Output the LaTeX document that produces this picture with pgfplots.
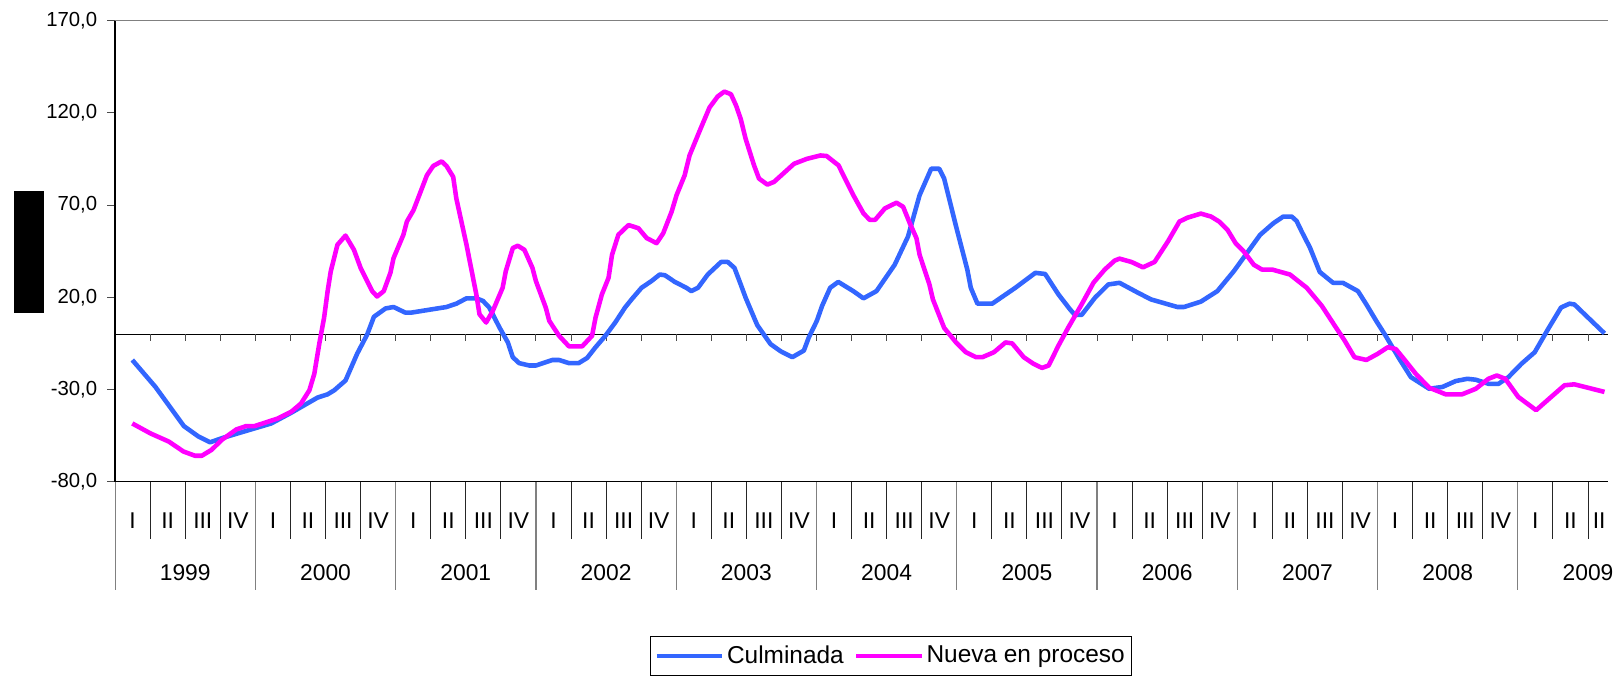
\documentclass[border=0pt]{standalone}
\usepackage{pgfplots}
\pgfplotsset{compat=1.18}
\usepackage{fontspec}
\setmainfont{Liberation Sans}
\definecolor{culm}{HTML}{3366FF}
\definecolor{nueva}{HTML}{FF00FF}

\begin{document}
\begin{tikzpicture}
% frame of the whole picture: 1 px of the reference = 0.5pt
\path (0pt,0pt) rectangle (810pt,339pt);
\begin{axis}[
    at={(58pt,96.15pt)}, anchor=south west,
    scale only axis, width=752pt, height=232.5pt,
    xmin=0, xmax=42.56, ymin=-80, ymax=170,
    axis x line*=bottom, axis y line*=left,
    x axis line style={black, line width=0.5pt},
    y axis line style={black, line width=0.85pt},
    clip=false,
    tick align=outside, major tick length=4pt,
    ytick={-80,-30,20,70,120,170},
    ytick style={gray!60!black, line width=0.5pt},
    /pgf/number format/assume math mode=true,
    yticklabel style={font=\fontsize{10.25}{12}\selectfont, xshift=-1.5pt,
        /pgf/number format/.cd, fixed, fixed zerofill, precision=1, use comma},
    xtick={0.5,1.5,...,42.5},
    xticklabels={I,II,III,IV,I,II,III,IV,I,II,III,IV,I,II,III,IV,I,II,III,IV,I,II,III,IV,
        I,II,III,IV,I,II,III,IV,I,II,III,IV,I,II,III,IV,I,II,\llap{II}},
    xtick style={draw=none},
    xticklabel style={font=\fontsize{11.5}{13}\selectfont, anchor=center, yshift=-15.3pt},
    extra x ticks={2,6,...,42},
    extra x tick labels={1999,2000,2001,2002,2003,2004,2005,2006,2007,2008,2009},
    extra x tick style={xticklabel style={yshift=-26.25pt}},
    legend columns=2,
    legend image code/.code={\draw[#1] (0pt,0pt) -- (33pt,0pt);},
    legend style={at={(0.3585,-0.334)}, anchor=north west, draw=black, line width=0.5pt,
        font=\fontsize{12.3}{14}\selectfont, inner xsep=2pt, inner ysep=2.6pt,
        nodes={inner xsep=1.2pt},
        /tikz/every even column/.append style={column sep=4pt}},
]
% reference lines and category separators
\draw[gray, line width=0.5pt] (axis cs:0,170) -- (axis cs:42.56,170);
\draw[black, line width=0.5pt] (axis cs:0,0) -- (axis cs:42.56,0);
\pgfplotsinvokeforeach{1,...,42}{
  \draw[gray!60!black, line width=0.5pt] (axis cs:#1,0) -- ([yshift=-3.5pt]axis cs:#1,0);
  \draw[black!85, line width=0.5pt] (axis cs:#1,-80) -- ([yshift=-28.5pt]axis cs:#1,-80);
}
\pgfplotsinvokeforeach{0,4,...,40}{
  \draw[gray, line width=0.6pt] (axis cs:#1,-80) -- ([yshift=-54.5pt]axis cs:#1,-80);
}

\addplot[culm, line width=2.3pt, line join=round] coordinates {
(0.49,-13.9)(1.15,-28.5)(1.96,-49.7)(2.38,-55.4)(2.71,-58.5)(3.04,-56.3)(3.51,-53.6)
(4.45,-48.3)(5.02,-42.5)(5.77,-34.3)(6.06,-32.5)(6.25,-30.3)(6.57,-25.0)(6.9,-10.6)
(7.19,0)(7.38,9.5)(7.71,14)(7.94,14.8)(8.27,11.8)(8.46,11.8)(9.45,14.8)(9.73,16.6)
(10.02,19.5)(10.3,19.5)(10.49,18.1)(10.67,14.5)(10.96,3.7)(11.2,-4.4)(11.34,-12.4)
(11.52,-15.6)(11.81,-16.9)(12.0,-16.9)(12.47,-13.9)(12.66,-13.9)(12.94,-15.6)
(13.22,-15.6)(13.46,-12.8)(13.7,-7.0)(13.98,-0.8)(14.26,6.4)(14.54,14.5)(14.73,19.0)
(15.01,25.2)(15.29,28.8)(15.53,32.4)(15.68,32.0)(15.96,28.4)(16.29,25.2)(16.43,23.4)
(16.62,25.2)(16.9,32.4)(17.28,39.2)(17.47,39.2)(17.66,36)(17.84,27)(17.98,19.8)
(18.31,5.0)(18.69,-5.3)(18.98,-9.2)(19.31,-12.4)(19.64,-8.8)(19.78,-1.7)(20.01,7.3)
(20.16,15.4)(20.39,25.2)(20.62,28.4)(21.05,23.4)(21.34,19.5)(21.71,23.4)(22.23,37.7)
(22.61,53.0)(22.94,75.4)(23.27,89.7)(23.5,89.7)(23.64,84.4)(23.97,59.2)(24.3,35.1)
(24.4,25.2)(24.59,16.6)(25.01,16.6)(25.67,25.2)(26.24,33.3)(26.52,32.7)(26.9,21.6)
(27.23,13.5)(27.37,10.5)(27.56,10.5)(27.94,19.8)(28.32,27)(28.64,27.9)(29.17,22.5)
(29.54,18.9)(30.29,14.8)(30.48,14.8)(30.96,17.7)(31.43,23.4)(31.9,34.2)(32.65,53.9)
(33.03,60.2)(33.31,63.8)(33.55,63.8)(33.69,61.4)(33.84,55.5)(34.07,47)(34.35,33.8)
(34.73,27.9)(35.01,27.9)(35.44,23.4)(35.68,16.2)(35.96,7.3)(36.23,-0.8)(36.62,-13.3)
(36.95,-23.2)(37.47,-29.5)(37.85,-28.5)(38.23,-25.3)(38.56,-24.1)(38.8,-24.6)
(39.16,-26.8)(39.45,-26.8)(39.73,-23.2)(40.1,-16.0)(40.48,-9.7)(40.86,2.8)(41.23,14.5)
(41.47,16.6)(41.61,16.2)(42.47,0.5)
};
\addlegendentry{Culminada}

\addplot[nueva, line width=2.3pt, line join=round] coordinates {
(0.49,-48.3)(1.01,-53.7)(1.53,-58.1)(1.95,-63.5)(2.28,-65.8)(2.47,-65.8)(2.75,-62.6)
(3.04,-57.2)(3.46,-51.5)(3.74,-49.7)(3.98,-49.7)(4.64,-45.6)(5.02,-42.0)(5.3,-37.5)
(5.54,-30.3)(5.68,-21.4)(5.82,-5.3)(5.96,9.1)(6.06,23.4)(6.15,34.2)(6.34,48.5)
(6.57,53.5)(6.81,45.8)(7.0,36.0)(7.33,23.4)(7.47,20.5)(7.66,23.4)(7.85,33.3)(7.94,41.3)
(8.22,53.9)(8.32,61.1)(8.51,67.3)(8.89,86.1)(9.07,91.2)(9.31,93.7)(9.45,91.2)(9.64,85.3)
(9.73,73.6)(10.02,48.5)(10.3,21.6)(10.39,10.9)(10.58,6.4)(10.77,12.7)(11.05,25.2)
(11.14,34.2)(11.34,46.7)(11.48,48.0)(11.67,45.8)(11.9,36.0)(12.0,28.8)(12.28,14.5)
(12.38,7.3)(12.66,-0.8)(12.94,-6.5)(13.32,-6.5)(13.6,-0.8)(13.7,9.1)(13.88,21.6)
(14.07,30.6)(14.17,43.1)(14.35,53.9)(14.64,59.2)(14.92,57.5)(15.16,52.1)(15.44,49.4)
(15.63,54.8)(15.87,66.5)(16.01,75.4)(16.24,86.1)(16.38,96.9)(16.67,110.3)(16.95,122.9)
(17.18,128.8)(17.37,131.5)(17.56,130.1)(17.71,123.8)(17.84,116.6)(17.98,105.9)
(18.22,91.5)(18.36,84.4)(18.6,81.1)(18.79,82.6)(19.36,92.4)(19.73,95.1)(20.11,96.9)
(20.29,96.6)(20.63,91.5)(20.77,86)(21.05,75.4)(21.34,65.5)(21.52,62.0)(21.67,62.0)
(21.95,68.2)(22.28,71.3)(22.47,69.1)(22.66,60.2)(22.85,52.1)(22.94,43.1)(23.22,27)
(23.32,18.9)(23.64,3.5)(23.98,-4.4)(24.26,-9.7)(24.55,-12.4)(24.73,-12.4)(25.06,-9.7)
(25.39,-4.4)(25.58,-4.9)(25.91,-12.4)(26.19,-16.0)(26.43,-18.2)(26.62,-16.9)(26.9,-6.1)
(27.18,3.7)(27.56,16.2)(27.9,28)(28.22,35.1)(28.5,39.9)(28.64,41.0)(28.98,39.2)
(29.31,36.3)(29.64,39.2)(30.02,50.3)(30.35,61.1)(30.58,63.2)(30.96,65.4)(31.25,63.8)
(31.48,61.1)(31.72,56.6)(31.95,49.4)(32.18,45.0)(32.47,37.7)(32.7,35.1)(32.99,35.1)
(33.5,32.4)(33.98,25.2)(34.41,15.4)(34.75,5.5)(35.06,-3.4)(35.34,-12.4)(35.68,-13.9)
(36.0,-10.6)(36.29,-7.0)(36.52,-8.0)(36.71,-12.4)(37.09,-21.4)(37.47,-28.9)(37.94,-32.5)
(38.41,-32.5)(38.8,-29.5)(39.16,-24.1)(39.4,-22.3)(39.64,-24.1)(40.01,-33.9)(40.52,-41.1)
(40.95,-33.9)(41.33,-27.6)(41.61,-27.1)(42.47,-31.2)
};
\addlegendentry{Nueva en proceso}
\end{axis}
\fill[black] (7pt,181.5pt) rectangle (22pt,243pt);
\end{tikzpicture}
\end{document}
